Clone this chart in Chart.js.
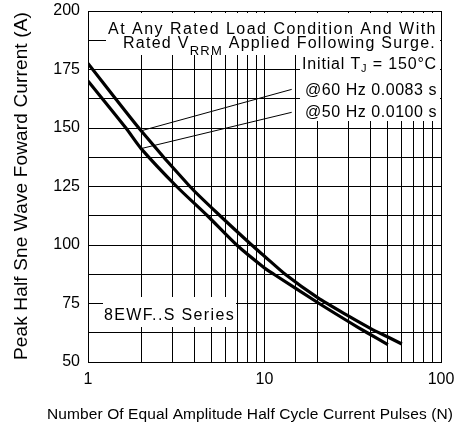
<!DOCTYPE html>
<html>
<head>
<meta charset="utf-8">
<script src="https://cdn.jsdelivr.net/npm/chart.js@4.4.1/dist/chart.umd.min.js"></script>
<style>
  html, body { margin: 0; padding: 0; background: #fff; }
  canvas { display: block; }
</style>
</head>
<body>
<canvas id="surge" width="458" height="427"></canvas>
<script>
// pulses (N) and peak current (A)
const upperN = [1, 2, 3.78, 5.6, 8.46, 10, 13.1, 20, 30, 40, 50, 60];
const upperA = [177.6, 148.8, 125, 112.5, 100, 95.2, 87.5, 77.5, 69.6, 64.3, 60.7, 57.7];
const lowerN = [1, 1.64, 2, 3.18, 4.75, 6.96, 10, 11.3, 20.4, 30, 38.2, 50];
const lowerA = [170.1, 150, 141.2, 125, 112.5, 100, 90.2, 87.5, 75, 67.2, 62.5, 57.4];

const xLabels = [1, 10, 100];
const yLabels = [50, 75, 100, 125, 150, 175, 200];

// leader lines: from the note text to each curve at N = 2
const leaderFromN = 14.26;
const leaderFromA = [166.5, 156.7];

const xTitle = 'Number Of Equal Amplitude Half Cycle Current Pulses (N)';
const yTitle = 'Peak Half Sne Wave Foward Current (A)';

const FONT = '"Liberation Sans", Arial, sans-serif';

function toPoints(xs, ys) {
  return xs.map(function (v, i) { return { x: v, y: ys[i] }; });
}

// draw a line made of runs of text, spread to fill left..right
function drawRuns(ctx, runs, left, right, base) {
  var nat = 0, n = 0;
  runs.forEach(function (r) {
    ctx.font = r.size + 'px ' + FONT;
    ctx.letterSpacing = '0px';
    r.w = ctx.measureText(r.t).width;
    nat += r.w;
    n += r.t.length;
  });
  var sp = (right - left - nat) / n;
  var xx = left;
  runs.forEach(function (r) {
    ctx.font = r.size + 'px ' + FONT;
    ctx.letterSpacing = sp + 'px';
    ctx.fillText(r.t, xx, base + (r.dy || 0));
    xx += r.w + sp * r.t.length;
  });
  ctx.letterSpacing = '0px';
}

const notes = {
  id: 'notes',
  beforeDatasetsDraw(chart) {
    const ctx = chart.ctx;
    const x = chart.scales.x, y = chart.scales.y;
    ctx.save();
    // white panels behind the notes
    ctx.fillStyle = '#fff';
    ctx.fillRect(106, 13, 334, 42);
    ctx.fillRect(300, 55, 140, 66);
    ctx.fillRect(103, 297, 133, 30);

    // leader lines
    ctx.strokeStyle = '#000';
    ctx.lineWidth = 1;
    const ends = [upperA[upperN.indexOf(2)], lowerA[lowerN.indexOf(2)]];
    for (let i = 0; i < 2; i++) {
      ctx.beginPath();
      ctx.moveTo(x.getPixelForValue(leaderFromN), y.getPixelForValue(leaderFromA[i]));
      ctx.lineTo(x.getPixelForValue(2), y.getPixelForValue(ends[i]));
      ctx.stroke();
    }

    ctx.fillStyle = '#000';
    ctx.textAlign = 'left';
    ctx.textBaseline = 'alphabetic';
    drawRuns(ctx, [{ t: 'At Any Rated Load Condition And With', size: 16 }], 108, 437, 33.5);
    drawRuns(ctx, [
      { t: 'Rated V', size: 16 },
      { t: 'RRM', size: 13, dy: 7 },
      { t: ' Applied Following Surge.', size: 16 }
    ], 123, 436, 47.5);
    drawRuns(ctx, [
      { t: 'Initial T', size: 16 },
      { t: 'J', size: 11, dy: 3 },
      { t: ' = 150°C', size: 16 }
    ], 302, 437, 68.5);
    drawRuns(ctx, [{ t: '@60 Hz 0.0083 s', size: 16 }], 305, 437, 94.5);
    drawRuns(ctx, [{ t: '@50 Hz 0.0100 s', size: 16 }], 305, 437, 116.8);
    drawRuns(ctx, [{ t: '8EWF..S Series', size: 16 }], 104, 235, 319.5);

    // axis titles
    drawRuns(ctx, [{ t: xTitle, size: 15.5 }], 47, 453, 419);
    ctx.translate(26.5, 360);
    ctx.rotate(-Math.PI / 2);
    drawRuns(ctx, [{ t: yTitle, size: 19 }], 0, 348, 0);
    ctx.restore();
  }
};

const ctx = document.getElementById('surge').getContext('2d');
const surgeChart = new Chart(ctx, {
  type: 'line',
  data: {
    datasets: [{
      label: '60 Hz',
      data: toPoints(upperN, upperA),
      borderColor: '#000',
      borderWidth: 3.2,
      pointRadius: 0,
      fill: false,
      tension: 0.25
    }, {
      label: '50 Hz',
      data: toPoints(lowerN, lowerA),
      borderColor: '#000',
      borderWidth: 3.2,
      pointRadius: 0,
      fill: false,
      tension: 0.25
    }]
  },
  options: {
    responsive: false,
    animation: false,
    devicePixelRatio: 1,
    layout: { padding: { left: 0, right: 17, top: 11, bottom: 0 } },
    plugins: {
      legend: { display: false },
      tooltip: { enabled: false }
    },
    scales: {
      x: {
        type: 'logarithmic',
        min: 1,
        max: 100,
        afterFit: function (s) {
          s.height = 65;
          s.paddingLeft = 0;
          s.paddingRight = 0;
        },
        grid: { color: '#000', lineWidth: 1, drawTicks: false },
        border: { color: '#000', width: 1 },
        ticks: {
          autoSkip: false,
          maxRotation: 0,
          padding: 8,
          color: '#000',
          font: { family: FONT, size: 16 },
          callback: function (v) { return xLabels.indexOf(v) >= 0 ? String(v) : ''; }
        }
      },
      y: {
        min: 50,
        max: 200,
        afterFit: function (s) {
          s.width = 88;
          s.paddingTop = 0;
          s.paddingBottom = 0;
        },
        grid: { color: '#000', lineWidth: 1, drawTicks: false },
        border: { color: '#000', width: 1 },
        ticks: {
          stepSize: 12.5,
          autoSkip: false,
          padding: 8,
          color: '#000',
          font: { family: FONT, size: 16 },
          callback: function (v) { return yLabels.indexOf(v) >= 0 ? String(v) : ''; }
        }
      }
    }
  },
  plugins: [notes]
});
</script>
</body>
</html>
